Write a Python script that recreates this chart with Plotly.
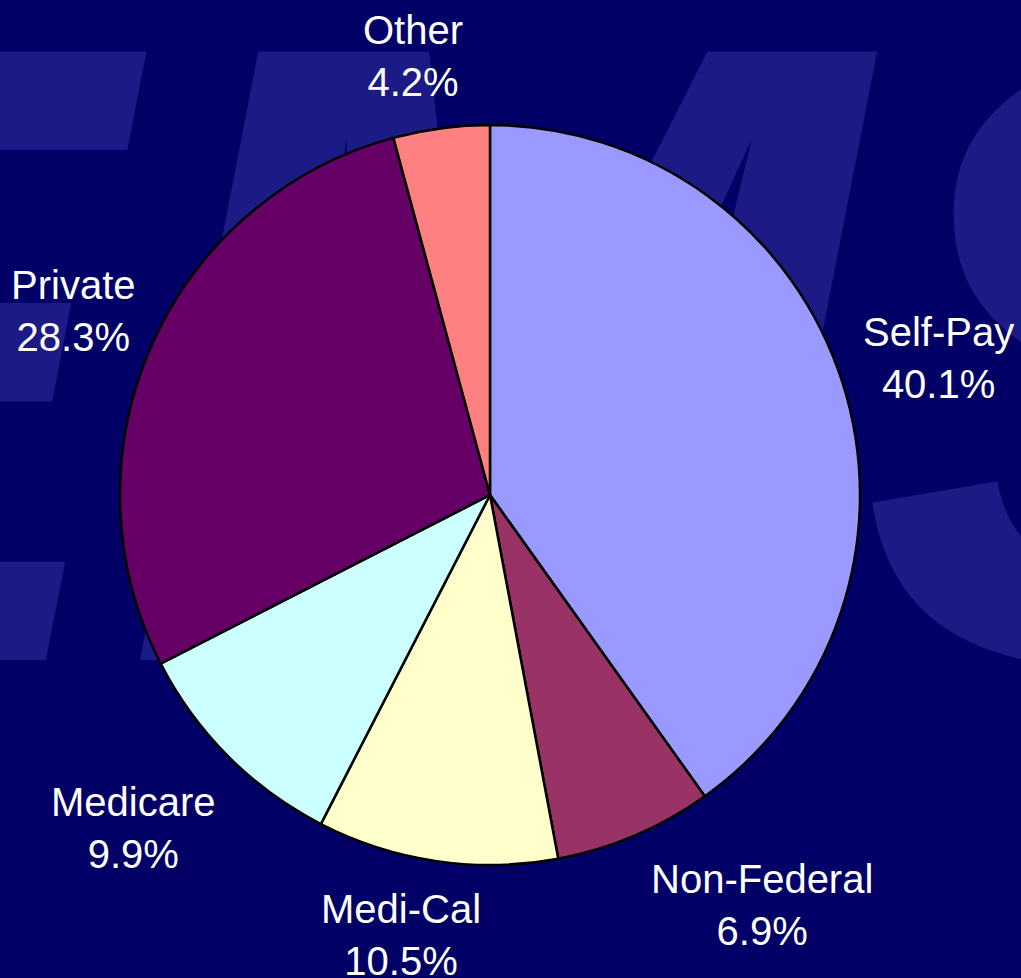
import plotly.graph_objects as go

# pagamento - participação por fonte (%)
categorias = ['Self-Pay', 'Non-Federal', 'Medi-Cal', 'Medicare', 'Private', 'Other']
valores = [40.1, 6.9, 10.5, 9.9, 28.3, 4.2]
cores = ['#9999FF', '#993366', '#FFFFCC', '#CCFFFF', '#660066', '#FF8080']

# posição dos rótulos (em pixels da página 1021x978)
rotulo_x = [938, 762, 401, 133, 73, 413]
rotulo_y = [358, 905, 935, 828, 311, 56]

W, H = 1021, 978
fundo = '#000066'
marca = '#1c1a84'

fig = go.Figure()

# marca d'água "EMS" atrás da pizza (camada cartesiana fica abaixo da pizza)
fig.add_trace(go.Scatter(x=[493], y=[439], mode='text', text=['EMS'],
                         textposition='middle center',
                         textfont=dict(family='Liberation Sans, Arial', size=885,
                                       color=marca, weight='bold', style='italic'),
                         hoverinfo='skip', showlegend=False, cliponaxis=True))

fig.add_trace(go.Pie(labels=categorias, values=valores, sort=False,
                     direction='clockwise', rotation=0,
                     marker=dict(colors=cores, line=dict(color='black', width=2.5)),
                     textinfo='none', showlegend=False,
                     domain=dict(x=[120 / W, 860 / W], y=[1 - 865 / H, 1 - 125 / H])))

for c, v, x, y in zip(categorias, valores, rotulo_x, rotulo_y):
    fig.add_annotation(x=x / W, y=1 - y / H, xref='paper', yref='paper',
                       text=f'{c}<br>{v:.1f}%', showarrow=False,
                       xanchor='center', yanchor='middle',
                       font=dict(family='Liberation Sans, Arial', size=40, color='white'))

fig.update_layout(width=W, height=H,
                  margin=dict(l=0, r=0, t=0, b=0),
                  paper_bgcolor=fundo, plot_bgcolor=fundo,
                  xaxis=dict(range=[0, W], visible=False, fixedrange=True),
                  yaxis=dict(range=[H, 0], visible=False, fixedrange=True))

fig.write_html("out.html", config={'displayModeBar': False},
               post_script="document.body.style.margin='0';document.body.style.overflow='hidden';")
